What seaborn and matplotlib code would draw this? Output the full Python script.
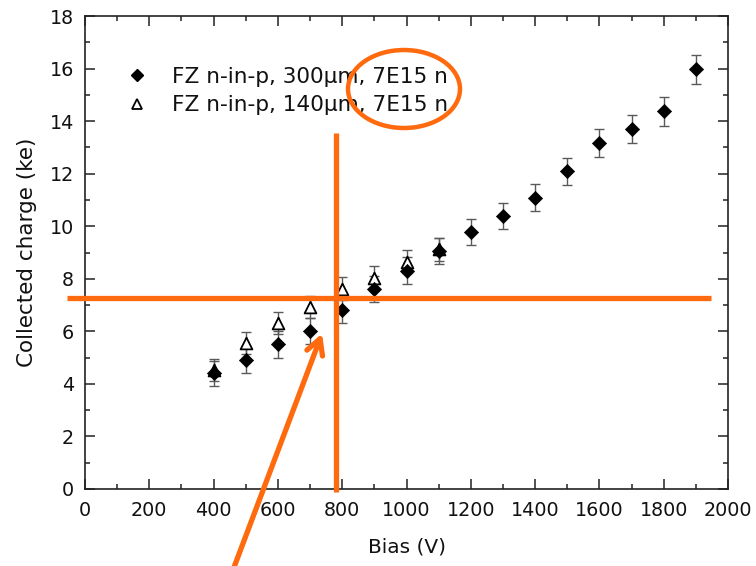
import matplotlib
matplotlib.use("Agg")
import matplotlib.pyplot as plt
from matplotlib.patches import Ellipse, FancyArrowPatch
from matplotlib.lines import Line2D
from matplotlib.ticker import MultipleLocator
import pandas as pd
import seaborn as sns

# Collected charge vs bias voltage for two FZ n-in-p sensors at 7E15 n/cm2
bias_300 = [400, 500, 600, 700, 800, 900, 1000, 1100, 1200, 1300, 1400, 1500, 1600, 1700, 1800, 1900]
charge_300 = [4.40, 4.91, 5.50, 6.01, 6.81, 7.60, 8.31, 9.07, 9.79, 10.39, 11.09, 12.09, 13.18, 13.69, 14.38, 15.98]
err_300 = [0.48, 0.48, 0.5, 0.5, 0.5, 0.5, 0.5, 0.5, 0.5, 0.5, 0.5, 0.52, 0.53, 0.53, 0.55, 0.55]

bias_140 = [400, 500, 600, 700, 800, 900, 1000, 1100]
charge_140 = [4.53, 5.54, 6.33, 6.94, 7.63, 8.04, 8.65, 9.12]
err_140 = [0.42, 0.42, 0.42, 0.42, 0.45, 0.44, 0.44, 0.44]

label_300 = "FZ n-in-p, 300µm, 7E15 n"
label_140 = "FZ n-in-p, 140µm, 7E15 n"

x_label = "Bias (V)"
y_label = "Collected charge (ke)"

sns.set_style("ticks")
plt.rcParams["font.family"] = ["DejaVu Sans"]
plt.rcParams["text.color"] = "#111111"
plt.rcParams["axes.labelcolor"] = "#111111"

W, H = 756, 566
fig = plt.figure(figsize=(W / 100, H / 100), dpi=100)
ax = fig.add_axes([85 / W, 1 - 489 / H, (728 - 85) / W, (489 - 16) / H])

df_300 = pd.DataFrame({"bias": bias_300, "charge": charge_300})
df_140 = pd.DataFrame({"bias": bias_140, "charge": charge_140})

err_color = "#5a5a5a"
ax.errorbar(bias_300, charge_300, yerr=err_300, fmt="none", ecolor=err_color,
            elinewidth=1.0, capsize=3.5, capthick=1.0, zorder=2)
ax.errorbar(bias_140, charge_140, yerr=err_140, fmt="none", ecolor=err_color,
            elinewidth=1.0, capsize=3.5, capthick=1.0, zorder=2)

sns.scatterplot(data=df_300, x="bias", y="charge", marker="D", s=52,
                color="black", edgecolor="black", linewidth=0.5, ax=ax, zorder=4)
sns.scatterplot(data=df_140, x="bias", y="charge", marker="^", s=72,
                facecolor="white", edgecolor="black", linewidth=1.3, ax=ax, zorder=3)

ax.set_xlim(0, 2000)
ax.set_ylim(0, 18)
ax.xaxis.set_major_locator(MultipleLocator(200))
ax.xaxis.set_minor_locator(MultipleLocator(100))
ax.yaxis.set_major_locator(MultipleLocator(2))
ax.yaxis.set_minor_locator(MultipleLocator(1))
ax.tick_params(which="both", direction="in", top=True, right=True, width=1.1, color="#222222")
ax.tick_params(which="major", length=7, labelsize=13.8, labelcolor="#111111")
ax.tick_params(axis="x", which="major", pad=9)
ax.tick_params(axis="y", which="major", pad=8)
ax.tick_params(which="minor", length=3.5)
for sp in ax.spines.values():
    sp.set_linewidth(1.2)
    sp.set_color("#222222")

ax.set_xlabel(x_label, fontsize=14.5, labelpad=12)
ax.set_ylabel(y_label, fontsize=15.5, labelpad=9)

handles = [
    Line2D([], [], marker="D", linestyle="none", color="black", markersize=6.2),
    Line2D([], [], marker="^", linestyle="none", markerfacecolor="white",
           markeredgecolor="black", markeredgewidth=1.3, markersize=7.0),
]
leg = ax.legend(handles, [label_300, label_140], loc="upper left",
                bbox_to_anchor=(126 / W, 1 - 67 / H), bbox_transform=fig.transFigure,
                frameon=False, fontsize=15.6, borderpad=0, borderaxespad=0,
                handletextpad=1.1, labelspacing=0.38, handlelength=1.0)
for t in leg.get_texts():
    t.set_color("#111111")

# Orange highlight marks drawn on top of the chart
orange = "#FF6A0E"
tf = fig.transFigure


def fx(px):
    return px / W


def fy(py):
    return 1 - py / H


fig.add_artist(Line2D([fx(336), fx(336)], [fy(133), fy(492)], color=orange,
                      linewidth=3.8, transform=tf, solid_capstyle="butt", zorder=10))
fig.add_artist(Line2D([fx(67), fx(711)], [fy(298), fy(298)], color=orange,
                      linewidth=3.8, transform=tf, solid_capstyle="butt", zorder=10))
fig.add_artist(Ellipse((fx(404), fy(89)), 112 / W, 78 / H, fill=False,
                       edgecolor=orange, linewidth=3.2, transform=tf, zorder=10))
fig.add_artist(FancyArrowPatch((fx(233), fy(570)), (fx(323), fy(331)),
                               arrowstyle="->,head_length=11,head_width=6",
                               mutation_scale=1, color=orange, linewidth=3.8,
                               transform=tf, zorder=10))

fig.savefig("out.png", dpi=100, facecolor="white")
